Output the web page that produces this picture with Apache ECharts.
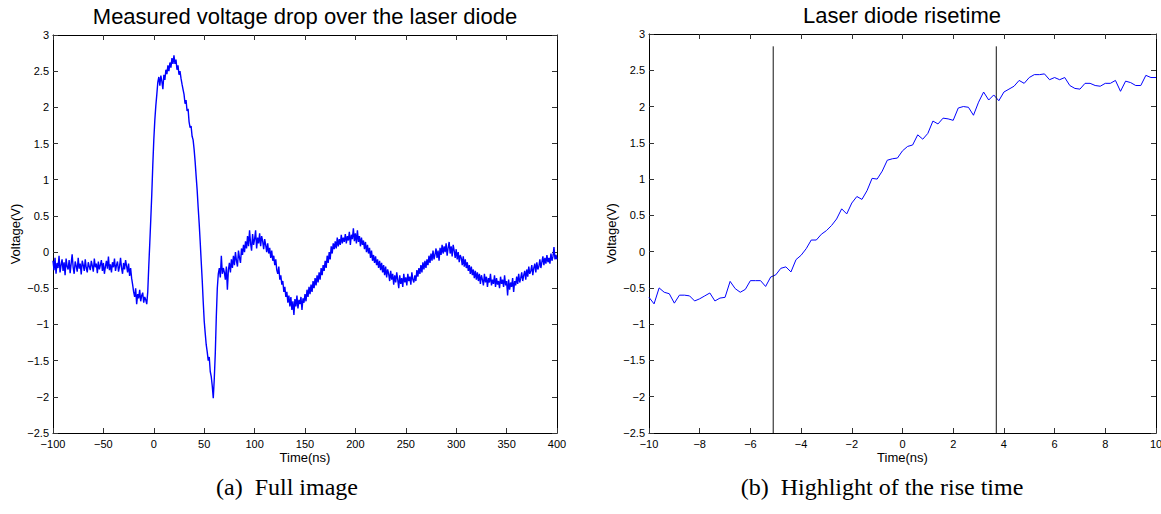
<!DOCTYPE html>
<html>
<head>
<meta charset="utf-8">
<script src="https://cdn.jsdelivr.net/npm/echarts@6/dist/echarts.min.js"></script>
<style>
html, body { margin: 0; padding: 0; background: #fff; }
#chart { width: 1161px; height: 514px; }
</style>
</head>
<body>
<div id="chart"></div>
<script>
// full trace, one sample per ns starting at -100 ns
const fullStart = -100;
const fullStep = 1;
const fullVolts = [
  -0.12, -0.25, -0.08, -0.30, -0.15, -0.22, -0.05, -0.28, -0.18, -0.10,
  -0.26, -0.14, -0.32, -0.09, -0.20, -0.24, -0.11, -0.29, -0.16, -0.03,
  -0.21, -0.30, -0.13, -0.19, -0.27, -0.08, -0.23, -0.16, -0.31, -0.12,
  -0.18, -0.26, -0.10, -0.22, -0.28, -0.14, -0.20, -0.25, -0.12, -0.19,
  -0.27, -0.09, -0.21, -0.16, -0.29, -0.13, -0.24, -0.18, -0.11, -0.26,
  -0.15, -0.30, -0.20, -0.12, -0.23, -0.06, -0.25, -0.17, -0.28, -0.14,
  -0.21, -0.09, -0.26, -0.18, -0.13, -0.27, -0.20, -0.08, -0.22, -0.30,
  -0.15, -0.24, -0.11, -0.19, -0.28, -0.16, -0.33, -0.22, -0.36, -0.45,
  -0.55, -0.62, -0.50, -0.72, -0.58, -0.64, -0.52, -0.68, -0.60, -0.56,
  -0.70, -0.62, -0.66, -0.72, -0.55, -0.20, 0.12, 0.45, 0.80, 1.20,
  1.55, 1.82, 2.02, 2.18, 2.35, 2.42, 2.30, 2.44, 2.36, 2.25,
  2.45, 2.38, 2.52, 2.46, 2.58, 2.50, 2.62, 2.55, 2.68, 2.60,
  2.72, 2.60, 2.66, 2.52, 2.58, 2.45, 2.50, 2.40, 2.32, 2.25,
  2.18, 2.05, 2.10, 1.95, 1.98, 1.80, 1.72, 1.74, 1.60, 1.55,
  1.42, 1.25, 1.05, 0.86, 0.62, 0.40, 0.15, -0.12, -0.38, -0.68,
  -0.95, -1.12, -1.28, -1.38, -1.50, -1.45, -1.65, -1.72, -1.85, -2.02,
  -1.75, -1.40, -0.90, -0.50, -0.30, -0.22, -0.35, -0.05, -0.30, -0.22,
  -0.28, -0.38, -0.20, -0.52, -0.25, -0.15, -0.28, -0.10, -0.22, -0.05,
  -0.18, 0.00, -0.12, -0.20, 0.02, -0.08, -0.15, 0.05, -0.04, 0.10,
  0.00, 0.15, 0.05, 0.22, 0.08, 0.30, 0.12, 0.02, 0.25, 0.10,
  0.18, 0.30, 0.05, 0.20, 0.12, 0.26, 0.08, 0.22, 0.15, 0.04,
  0.18, 0.10, 0.00, 0.12, -0.02, 0.06, -0.08, 0.02, -0.12, -0.05,
  -0.18, -0.10, -0.25, -0.30, -0.20, -0.38, -0.32, -0.45, -0.40, -0.55,
  -0.48, -0.62, -0.55, -0.70, -0.60, -0.75, -0.62, -0.80, -0.68, -0.87,
  -0.65, -0.75, -0.60, -0.78, -0.66, -0.72, -0.62, -0.80, -0.64, -0.70,
  -0.58, -0.68, -0.52, -0.62, -0.48, -0.58, -0.45, -0.55, -0.40, -0.50,
  -0.36, -0.46, -0.32, -0.42, -0.28, -0.38, -0.22, -0.32, -0.18, -0.26,
  -0.12, -0.22, -0.05, -0.15, 0.00, -0.10, 0.08, -0.02, 0.12, 0.04,
  0.15, 0.05, 0.20, 0.08, 0.18, 0.10, 0.24, 0.12, 0.20, 0.14,
  0.25, 0.12, 0.22, 0.16, 0.28, 0.10, 0.24, 0.18, 0.33, 0.15,
  0.26, 0.12, 0.30, 0.14, 0.22, 0.08, 0.20, 0.10, 0.16, 0.04,
  0.14, 0.00, 0.10, -0.02, 0.06, -0.08, 0.02, -0.12, -0.04, -0.15,
  -0.06, -0.18, -0.10, -0.22, -0.12, -0.25, -0.15, -0.28, -0.18, -0.32,
  -0.20, -0.35, -0.24, -0.30, -0.40, -0.26, -0.38, -0.30, -0.45, -0.32,
  -0.42, -0.28, -0.38, -0.50, -0.32, -0.44, -0.36, -0.48, -0.30, -0.42,
  -0.35, -0.46, -0.30, -0.40, -0.34, -0.45, -0.28, -0.38, -0.42, -0.32,
  -0.40, -0.25, -0.34, -0.22, -0.30, -0.18, -0.28, -0.14, -0.24, -0.12,
  -0.22, -0.10, -0.18, -0.05, -0.15, -0.02, -0.12, 0.02, -0.10, -0.03,
  0.05, -0.08, 0.02, -0.12, 0.06, -0.04, 0.10, -0.02, 0.08, 0.00,
  0.12, -0.05, 0.06, 0.14, -0.02, 0.08, -0.06, 0.10, 0.02, -0.08,
  0.04, -0.10, 0.00, -0.14, -0.04, -0.08, -0.18, -0.06, -0.20, -0.10,
  -0.22, -0.14, -0.26, -0.18, -0.30, -0.20, -0.32, -0.24, -0.36, -0.26,
  -0.38, -0.28, -0.40, -0.30, -0.44, -0.32, -0.38, -0.46, -0.30, -0.42,
  -0.34, -0.48, -0.36, -0.42, -0.30, -0.46, -0.38, -0.44, -0.32, -0.48,
  -0.36, -0.45, -0.40, -0.50, -0.34, -0.44, -0.38, -0.48, -0.32, -0.46,
  -0.40, -0.60, -0.38, -0.52, -0.42, -0.48, -0.36, -0.55, -0.40, -0.46,
  -0.34, -0.44, -0.30, -0.42, -0.36, -0.28, -0.40, -0.32, -0.26, -0.38,
  -0.24, -0.34, -0.20, -0.30, -0.26, -0.18, -0.32, -0.22, -0.16, -0.28,
  -0.14, -0.24, -0.20, -0.10, -0.22, -0.14, -0.06, -0.18, -0.08, -0.16,
  -0.04, -0.14, -0.08, -0.16, -0.02, -0.12, -0.06, 0.07, -0.10, -0.04,
  -0.10
];

// rising edge, one sample per 0.2 ns starting at -10 ns
const riseStart = -10;
const riseStep = 0.2;
const riseVolts = [
  -0.63, -0.72, -0.50, -0.56, -0.58, -0.71, -0.60, -0.60, -0.61, -0.68,
  -0.65, -0.61, -0.57, -0.68, -0.64, -0.63, -0.41, -0.51, -0.56, -0.52,
  -0.40, -0.40, -0.40, -0.48, -0.35, -0.32, -0.23, -0.21, -0.28, -0.11,
  -0.05, 0.04, 0.16, 0.16, 0.24, 0.29, 0.36, 0.45, 0.59, 0.52,
  0.67, 0.76, 0.72, 0.84, 1.01, 1.00, 1.11, 1.26, 1.28, 1.29,
  1.39, 1.45, 1.47, 1.61, 1.55, 1.63, 1.80, 1.76, 1.84, 1.83,
  1.81, 1.98, 2.00, 1.99, 1.88, 2.06, 2.20, 2.09, 2.16, 2.08,
  2.20, 2.24, 2.28, 2.36, 2.32, 2.40, 2.44, 2.44, 2.45, 2.37,
  2.40, 2.37, 2.40, 2.29, 2.25, 2.24, 2.32, 2.32, 2.29, 2.28,
  2.32, 2.32, 2.36, 2.21, 2.35, 2.33, 2.29, 2.29, 2.43, 2.40,
  2.40
];

// start / end of the rise, vertical markers on the zoom
const riseMarks = [-5.1, 3.7];
const riseMarkTop = 2.83;

const voltTicks = { min: -2.5, max: 3, interval: 0.5 };
const fullTimeTicks = { min: -100, max: 400, interval: 50 };
const riseTimeTicks = { min: -10, max: 10, interval: 2 };

const fullData = fullVolts.map((v, i) => [fullStart + i * fullStep, v]);
const riseData = riseVolts.map((v, i) => [Math.round((riseStart + i * riseStep) * 10) / 10, v]);

const font = 'Liberation Sans, Arial, Helvetica, sans-serif';
const serif = 'Liberation Serif, Times New Roman, serif';
const minus = v => String(v).replace('-', '\u2212');

function boxAxes(grid, ticks, isX) {
  const base = {
    type: 'value',
    gridIndex: grid,
    min: ticks.min,
    max: ticks.max,
    interval: ticks.interval,
    splitLine: { show: false },
    axisLine: { show: true, onZero: false, lineStyle: { color: '#000', width: 1 } },
    axisTick: { show: true, inside: true, length: 5, lineStyle: { color: '#333', width: 1 } }
  };
  const main = Object.assign({}, base, {
    position: isX ? 'bottom' : 'left',
    name: isX ? 'Time(ns)' : 'Voltage(V)',
    nameLocation: 'middle',
    nameGap: isX ? 18 : 31,
    nameRotate: isX ? 0 : 90,
    nameMoveOverlap: false,
    nameTextStyle: { fontFamily: font, fontSize: 13, color: '#000' },
    axisLabel: {
      margin: isX ? 5 : 4,
      fontFamily: font,
      fontSize: 11,
      color: '#000',
      formatter: minus,
      showMinLabel: true,
      showMaxLabel: true,
      hideOverlap: false
    }
  });
  const mirror = Object.assign({}, base, {
    position: isX ? 'top' : 'right',
    axisLabel: { show: false }
  });
  return [main, mirror];
}

function titleText(text, x, y, size, family) {
  return {
    text: text,
    left: x,
    top: y,
    padding: 0,
    textAlign: 'center',
    textVerticalAlign: 'middle',
    textStyle: { fontFamily: family, fontSize: size, fontWeight: 'normal', color: '#000' }
  };
}

const chart = echarts.init(document.getElementById('chart'), null, { renderer: 'svg' });

const option = {
  backgroundColor: '#FFFFFF',
  animation: false,
  title: [
    titleText('Measured voltage drop over the laser diode', 305, 16, 22, font),
    titleText('Laser diode risetime', 902, 15, 22, font),
    titleText('(a)  Full image', 287, 487, 24, serif),
    titleText('(b)  Highlight of the rise time', 882, 487, 24, serif)
  ],
  grid: [
    { left: 53, top: 35, width: 504, height: 398, containLabel: false, outerBoundsMode: 'none' },
    { left: 649, top: 34, width: 507, height: 399, containLabel: false, outerBoundsMode: 'none' }
  ],
  xAxis: boxAxes(0, fullTimeTicks, true).concat(boxAxes(1, riseTimeTicks, true)),
  yAxis: boxAxes(0, voltTicks, false).concat(boxAxes(1, voltTicks, false)),
  series: [
    {
      type: 'line',
      xAxisIndex: 0,
      yAxisIndex: 0,
      data: fullData,
      showSymbol: false,
      symbol: 'none',
      silent: true,
      lineStyle: { color: '#0000ff', width: 1.4 }
    },
    {
      type: 'line',
      xAxisIndex: 2,
      yAxisIndex: 2,
      data: riseData,
      showSymbol: false,
      symbol: 'none',
      silent: true,
      lineStyle: { color: '#0000ff', width: 1 }
    }
  ].concat(riseMarks.map(x => ({
    type: 'line',
    xAxisIndex: 2,
    yAxisIndex: 2,
    data: [[x, voltTicks.min], [x, riseMarkTop]],
    showSymbol: false,
    symbol: 'none',
    silent: true,
    lineStyle: { color: '#111', width: 1 }
  })))
};

chart.setOption(option);
</script>
</body>
</html>
